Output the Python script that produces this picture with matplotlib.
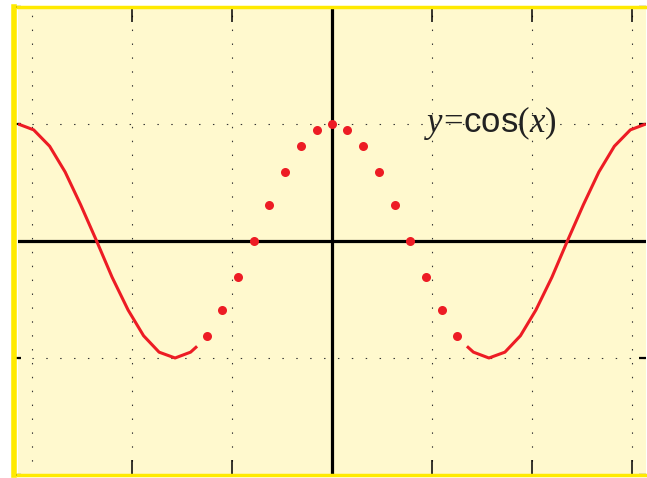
import matplotlib
matplotlib.use("Agg")
import matplotlib.pyplot as plt

plt.rcParams['mathtext.fontset'] = 'custom'
plt.rcParams['mathtext.rm'] = 'Liberation Serif'
plt.rcParams['mathtext.it'] = 'Liberation Serif:italic'
plt.rcParams['mathtext.sf'] = 'Liberation Sans'

# solid part of the curve (left and right branches)
left_x = [-6.28, -5.97, -5.65, -5.34, -5.03, -4.71, -4.40, -4.08, -3.77, -3.46, -3.14, -2.83, -2.70]
left_y = [1.00, 0.95, 0.81, 0.59, 0.31, 0.00, -0.31, -0.59, -0.81, -0.95, -1.00, -0.95, -0.90]
right_x = [2.70, 2.83, 3.14, 3.46, 3.77, 4.08, 4.40, 4.71, 5.03, 5.34, 5.65, 5.97, 6.28]
right_y = [-0.90, -0.95, -1.00, -0.95, -0.81, -0.59, -0.31, 0.00, 0.31, 0.59, 0.81, 0.95, 1.00]

# dotted middle part
dot_x = [-2.51, -2.20, -1.88, -1.57, -1.26, -0.94, -0.63, -0.31, 0.00,
         0.31, 0.63, 0.94, 1.26, 1.57, 1.88, 2.20, 2.51]
dot_y = [-0.81, -0.59, -0.31, 0.00, 0.31, 0.59, 0.81, 0.95, 1.00,
         0.95, 0.81, 0.59, 0.31, 0.00, -0.31, -0.59, -0.81]

x_ticks = [-4, -2, 2, 4, 6]
y_ticks = [-2, -1, 1, 2]
x_grid = [-6, -4, -2, 2, 4, 6]
y_grid = [-2, -1, 1, 2]

red = '#ED1C24'
yellow = '#FFEA00'

fig = plt.figure(figsize=(6.47, 4.78), dpi=100)
ax = fig.add_axes([18 / 647, 3 / 478, 628 / 647, 468 / 478])
ax.set_facecolor('#FFF9CE')
ax.set_xlim(-6.2832, 6.2832)
ax.set_ylim(-2, 2)

# dotted grid
dot_style = dict(color='#333333', lw=0.8, ls=(0, (1.3, 11.2)), zorder=1)
for gx in x_grid:
    ax.axvline(gx, **dot_style)
for gy in y_grid:
    ax.axhline(gy, **dot_style)

ax.set_xticks(x_ticks)
ax.set_yticks(y_ticks)
ax.tick_params(axis='x', which='major', direction='in', length=11, width=1.1,
               top=True, bottom=True, labelbottom=False)
ax.tick_params(axis='y', which='major', direction='in', length=5, width=1.6,
               left=True, right=True, labelleft=False)

ax.axhline(0, color='black', lw=2.3, zorder=2)
ax.axvline(0, color='black', lw=2.3, zorder=2)

ax.plot(left_x, left_y, color=red, lw=2.2, zorder=3, solid_capstyle='butt')
ax.plot(right_x, right_y, color=red, lw=2.2, zorder=3, solid_capstyle='butt')
ax.plot(dot_x, dot_y, 'o', color=red, ms=6.5, mec='none', zorder=4)

ax.text(1.84, 0.93, r'$\mathit{y}\!=\!\mathsf{cos}\mathrm{(}\mathit{x}\mathrm{)}$',
        fontsize=25, color='#222222', va='baseline', ha='left', zorder=5)

for side in ['left', 'top', 'bottom']:
    ax.spines[side].set_color(yellow)
ax.spines['left'].set_linewidth(4)
ax.spines['left'].set_position(('outward', 3))
ax.spines['top'].set_linewidth(2.5)
ax.spines['bottom'].set_linewidth(2.5)
ax.spines['right'].set_visible(False)

fig.savefig('out.png', dpi=100)
